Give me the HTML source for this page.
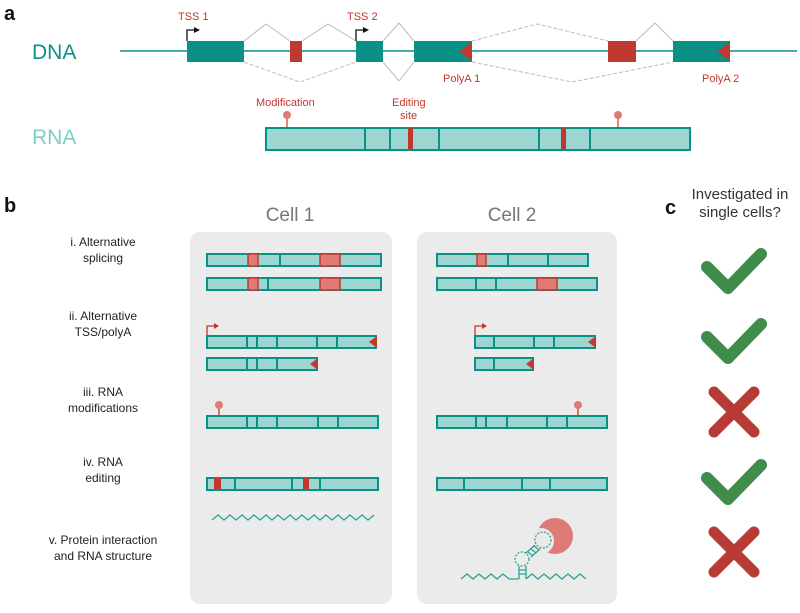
<!DOCTYPE html>
<html><head><meta charset="utf-8"><style>body{margin:0;background:#fff}svg{display:block}text{font-family:"Liberation Sans",sans-serif}</style></head><body>
<svg width="800" height="613" viewBox="0 0 800 613" xmlns="http://www.w3.org/2000/svg">
<defs>
<g id="chk"><polyline points="-27,-4 -6,17 27,-17" fill="none" stroke="#3f8c4b" stroke-width="12" stroke-linejoin="round" stroke-linecap="round"/></g>
<g id="xx"><path d="M-20,-20 L20,20 M20,-20 L-20,20" stroke="#b73a35" stroke-width="11" stroke-linecap="round"/></g>
</defs>
<text x="4" y="20" font-size="20" font-weight="bold" fill="#111">a</text>
<text x="32" y="59" font-size="21" fill="#0a9185">DNA</text>
<line x1="120" y1="51" x2="797" y2="51" stroke="#0a9185" stroke-width="1.5"/>
<g fill="none" stroke="#bbb" stroke-width="1">
<polyline points="244,41 266,24 290,41"/><polyline points="302,41 328,24 356,41"/><polyline points="383,41 399,23 414,41"/><polyline points="636,41 655,23 673,41"/>
<polyline points="383,62 399,81 414,62"/>
<g stroke-dasharray="4,2"><polyline points="472,41 537,24 608,41"/><polyline points="244,62 300,82 356,62"/><polyline points="472,62 572,82 673,62"/></g>
</g>
<g fill="#0a9185"><rect x="187" y="41" width="57" height="21"/><rect x="356" y="41" width="27" height="21"/><rect x="414" y="41" width="58" height="21"/><rect x="673" y="41" width="57" height="21"/></g>
<g fill="#c0392f"><rect x="290" y="41" width="12" height="21"/><rect x="608" y="41" width="28" height="21"/><polygon points="472,42 472,61 459,51.5"/><polygon points="730,42 730,61 717,51.5"/></g>
<g fill="none" stroke="#111" stroke-width="1.3"><polyline points="187,41 187,30 195,30"/><polyline points="356,41 356,30 364,30"/></g>
<g fill="#111"><polygon points="194,27 200,30 194,33"/><polygon points="363,27 369,30 363,33"/></g>
<g font-size="11" fill="#c0392f"><text x="178" y="20">TSS 1</text><text x="347" y="20">TSS 2</text><text x="443" y="82">PolyA 1</text><text x="702" y="82">PolyA 2</text>
<text x="256" y="106">Modification</text><text x="392" y="106">Editing</text><text x="400" y="119">site</text></g>
<text x="32" y="144" font-size="21" fill="#7ccfc7">RNA</text>
<rect x="266" y="128" width="424" height="22" fill="#9dd6d1" stroke="#0a9185" stroke-width="2"/>
<g stroke="#0a9185" stroke-width="2"><line x1="365" y1="128" x2="365" y2="150"/><line x1="390" y1="128" x2="390" y2="150"/><line x1="439" y1="128" x2="439" y2="150"/><line x1="539" y1="128" x2="539" y2="150"/><line x1="590" y1="128" x2="590" y2="150"/></g>
<g fill="#c0392f"><rect x="408" y="128" width="5" height="22"/><rect x="561" y="128" width="5" height="22"/></g>
<g stroke="#c0392f" stroke-width="1.2"><line x1="287" y1="118" x2="287" y2="128"/><line x1="618" y1="118" x2="618" y2="128"/></g>
<g fill="#e07a75"><circle cx="287" cy="115" r="4"/><circle cx="618" cy="115" r="4"/></g>

<text x="4" y="212" font-size="20" font-weight="bold" fill="#111">b</text>
<text x="290" y="221" font-size="19" fill="#777" text-anchor="middle">Cell 1</text>
<text x="512" y="221" font-size="19" fill="#777" text-anchor="middle">Cell 2</text>
<rect x="190" y="232" width="202" height="372" rx="10" fill="#ebebeb"/>
<rect x="417" y="232" width="200" height="372" rx="10" fill="#ebebeb"/>
<g font-size="12" fill="#222" text-anchor="middle">
<text x="103" y="246">i. Alternative</text><text x="103" y="262">splicing</text>
<text x="103" y="320">ii. Alternative</text><text x="103" y="336">TSS/polyA</text>
<text x="103" y="396">iii. RNA</text><text x="103" y="412">modifications</text>
<text x="103" y="466">iv. RNA</text><text x="103" y="482">editing</text>
<text x="103" y="544">v. Protein interaction</text><text x="103" y="560">and RNA structure</text>
</g>
<g fill="#9dd6d1" stroke="#0a9185" stroke-width="2">
<rect x="207" y="254" width="174" height="12"/><rect x="207" y="278" width="174" height="12"/>
<rect x="437" y="254" width="151" height="12"/><rect x="437" y="278" width="160" height="12"/>
<rect x="207" y="336" width="169" height="12"/><rect x="207" y="358" width="110" height="12"/>
<rect x="475" y="336" width="120" height="12"/><rect x="475" y="358" width="58" height="12"/>
<rect x="207" y="416" width="171" height="12"/><rect x="437" y="416" width="170" height="12"/>
<rect x="207" y="478" width="171" height="12"/><rect x="437" y="478" width="170" height="12"/>
</g>
<g fill="#e07a75" stroke="#c0392f" stroke-width="1.5">
<rect x="248" y="254" width="10" height="12"/><rect x="320" y="254" width="20" height="12"/>
<rect x="248" y="278" width="10" height="12"/><rect x="320" y="278" width="20" height="12"/>
<rect x="477" y="254" width="9" height="12"/><rect x="537" y="278" width="20" height="12"/>
</g>
<g stroke="#0a9185" stroke-width="2">
<line x1="280" y1="254" x2="280" y2="266"/><line x1="268" y1="278" x2="268" y2="290"/>
<line x1="508" y1="254" x2="508" y2="266"/><line x1="548" y1="254" x2="548" y2="266"/>
<line x1="476" y1="278" x2="476" y2="290"/><line x1="496" y1="278" x2="496" y2="290"/>
<line x1="247" y1="336" x2="247" y2="348"/><line x1="257" y1="336" x2="257" y2="348"/><line x1="277" y1="336" x2="277" y2="348"/><line x1="317" y1="336" x2="317" y2="348"/><line x1="337" y1="336" x2="337" y2="348"/>
<line x1="247" y1="358" x2="247" y2="370"/><line x1="257" y1="358" x2="257" y2="370"/><line x1="277" y1="358" x2="277" y2="370"/>
<line x1="494" y1="336" x2="494" y2="348"/><line x1="534" y1="336" x2="534" y2="348"/><line x1="554" y1="336" x2="554" y2="348"/>
<line x1="494" y1="358" x2="494" y2="370"/>
<line x1="247" y1="416" x2="247" y2="428"/><line x1="257" y1="416" x2="257" y2="428"/><line x1="277" y1="416" x2="277" y2="428"/><line x1="318" y1="416" x2="318" y2="428"/><line x1="338" y1="416" x2="338" y2="428"/>
<line x1="476" y1="416" x2="476" y2="428"/><line x1="486" y1="416" x2="486" y2="428"/><line x1="507" y1="416" x2="507" y2="428"/><line x1="547" y1="416" x2="547" y2="428"/><line x1="567" y1="416" x2="567" y2="428"/>
<line x1="235" y1="478" x2="235" y2="490"/><line x1="292" y1="478" x2="292" y2="490"/><line x1="320" y1="478" x2="320" y2="490"/>
<line x1="464" y1="478" x2="464" y2="490"/><line x1="522" y1="478" x2="522" y2="490"/><line x1="550" y1="478" x2="550" y2="490"/>
</g>
<g fill="#c0392f">
<rect x="214" y="478" width="7" height="12"/><rect x="303" y="478" width="6" height="12"/>
<polygon points="377,336 377,348 369,342"/><polygon points="318,358 318,370 310,364"/>
<polygon points="596,336 596,348 588,342"/><polygon points="534,358 534,370 526,364"/>
<polygon points="214,323 219,326 214,329"/><polygon points="482,323 487,326 482,329"/>
</g>
<g fill="none" stroke="#c0392f" stroke-width="1.3"><polyline points="207,335 207,326 215,326"/><polyline points="475,335 475,326 483,326"/>
<line x1="219" y1="408" x2="219" y2="416"/><line x1="578" y1="408" x2="578" y2="416"/></g>
<g fill="#e07a75"><circle cx="219" cy="405" r="4"/><circle cx="578" cy="405" r="4"/></g>
<circle cx="555" cy="536" r="18" fill="#e07a75"/>
<circle cx="541" cy="541" r="13" fill="#ebebeb"/>
<g fill="none" stroke="#2aa596" stroke-width="1.3">
<polyline points="212,520 218,515 224,520 230,515 236,520 242,515 248,520 254,515 260,520 266,515 272,520 278,515 284,520 290,515 296,520 302,515 308,520 314,515 320,520 326,515 332,520 338,515 344,520 350,515 356,520 362,515 368,520 374,515"/>
<polyline points="461,579 467,574 473,579 479,574 485,579 491,574 497,579 503,574 509,579 519,579"/>
<polyline points="526,579 532,574 538,579 544,574 550,579 556,574 562,579 568,574 574,579 580,574 586,579"/>
<path d="M519,579 V566 M526,579 V566 M519,570 H526 M519,574 H526"/>
<circle cx="522" cy="559" r="7" stroke-dasharray="2,1.5"/>
<path d="M526,553 L535,545 M531,557 L540,549 M528,552 l5,4 M531,549 l5,4 M534,546 l5,4"/>
<circle cx="543" cy="540" r="8" stroke-dasharray="2,1.5"/>
</g>

<text x="665" y="214" font-size="20" font-weight="bold" fill="#111">c</text>
<text x="740" y="199" font-size="15" fill="#333" text-anchor="middle">Investigated in</text>
<text x="740" y="217" font-size="15" fill="#333" text-anchor="middle">single cells?</text>
<use href="#chk" x="734" y="271"/>
<use href="#chk" x="734" y="341"/>
<use href="#xx" x="734" y="412"/>
<use href="#chk" x="734" y="482"/>
<use href="#xx" x="734" y="552"/>
</svg>
</body></html>
